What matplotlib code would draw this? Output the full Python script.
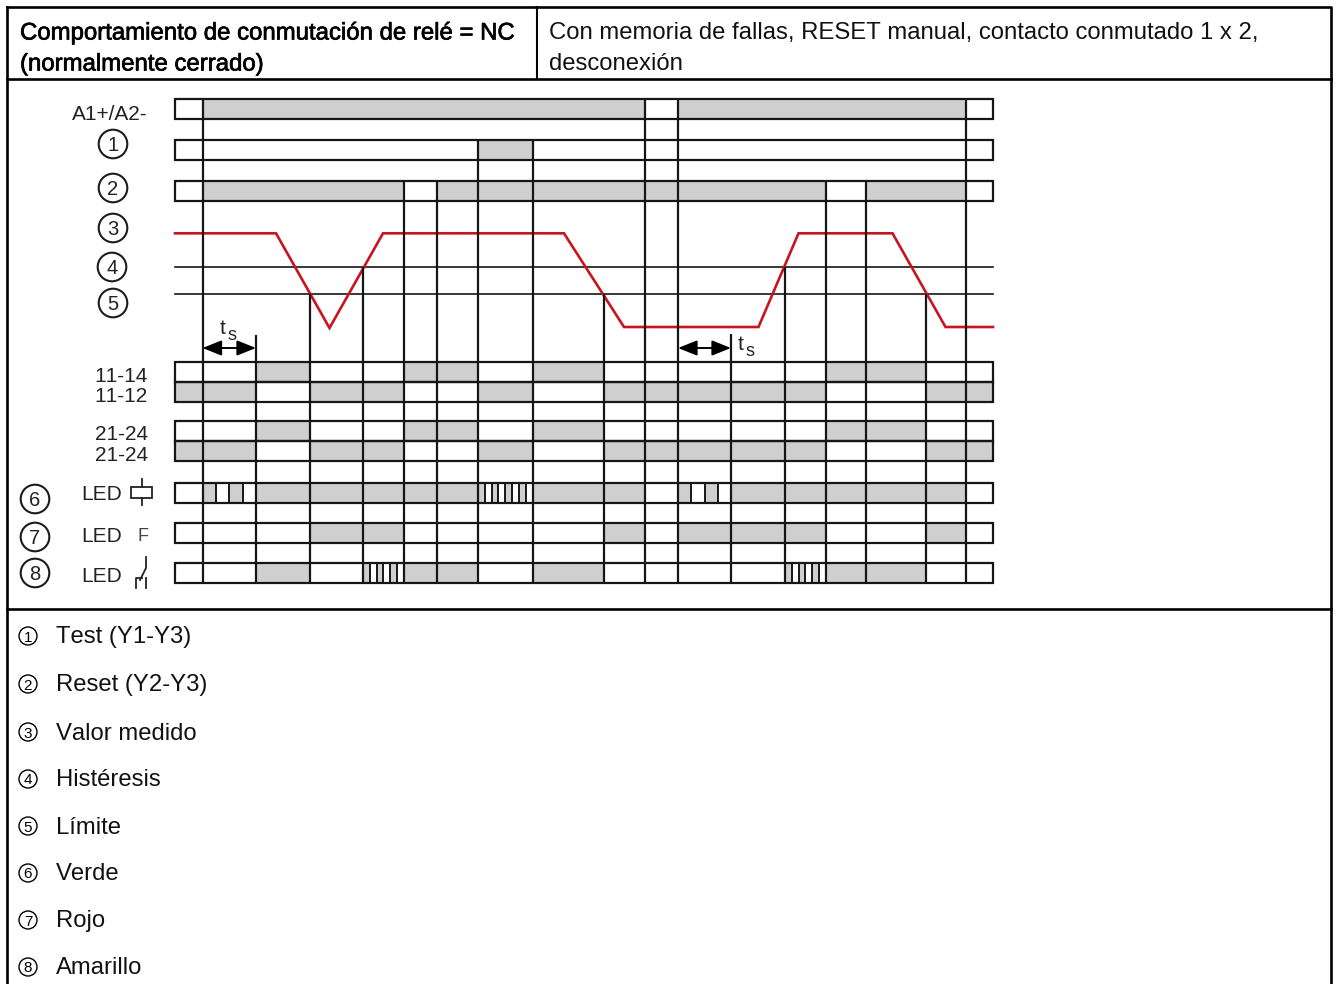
import matplotlib
matplotlib.use("Agg")
import matplotlib.pyplot as plt
import matplotlib.patheffects as pe
from matplotlib.patches import Rectangle, Circle

plt.rcParams['font.family'] = ['Liberation Sans', 'DejaVu Sans']
plt.rcParams['text.kerning_factor'] = 16

# Time edges of the timing diagram
edges = [175, 202.5, 256, 309.5, 363, 403.5, 437, 478, 532.5, 604, 644.5, 678, 731, 785, 825.5, 865.5, 926, 966, 993]
# top end of every inner vertical edge
edge_tops = [99, 335, 294, 267, 181, 181, 140, 140, 294, 99, 99, 334, 267, 181, 181, 294, 99]

# Row states per segment: 0 off, 1 on, s slow blink, f fast blink
row_a1   = "011111111101111110"
row_test = "000000010000000000"
row_rst  = "011110111111110110"
row_1114 = "001001101000001100"
row_1112 = "110110010111110011"
row_2124 = "001001101000001100"
row_2122 = "110110010111110011"
row_led6 = "0s11111f110s111110"
row_led7 = "000110000101110010"
row_led8 = "0010f11010000f1100"
rows = [row_a1, row_test, row_rst, row_1114, row_1112, row_2124, row_2122, row_led6, row_led7, row_led8]
row_tops = [99.3, 140, 180.7, 362.3, 382.3, 420.7, 440.7, 483.3, 523.3, 563.3]
row_h = 20

# Measured value (red) and thresholds
red_x = [175, 276, 329.5, 383, 564, 624, 758.5, 798.5, 892.5, 945.5, 993]
red_y = [233.3, 233.3, 328, 233.3, 233.3, 327, 327, 233.3, 233.3, 327, 327]
hyst_y = 267.3
limit_y = 293.7

side_labels = [("A1+/A2-", 113), ("11-14", 375), ("11-12", 395), ("21-24", 433), ("21-24", 454)]
big_marks = [("1", 113, 144), ("2", 113, 188), ("3", 113, 228), ("4", 112, 267), ("5", 113, 303),
             ("6", 35, 499), ("7", 35, 537), ("8", 35, 573)]
led_y = [493.5, 535, 575]
legend_items = ["Test (Y1-Y3)", "Reset (Y2-Y3)", "Valor medido", "Histéresis", "Límite", "Verde", "Rojo", "Amarillo"]
legend_y = [636, 684, 732, 779, 826, 873, 920, 967]

head_left = ["Comportamiento de conmutación de relé = NC", "(normalmente cerrado)"]
head_right = ["Con memoria de fallas, RESET manual, contacto conmutado 1 x 2,", "desconexión"]

GRAY = "#cfcfcf"
INK = "#161616"
RED = "#c8141e"
DY = 1.5

fig = plt.figure(figsize=(13.38, 9.84), dpi=100)
ax = fig.add_axes([0, 0, 1, 1])
ax.set_xlim(0, 1338)
ax.set_ylim(984, 0)
ax.axis("off")

# table frame
ax.plot([6.7, 1331, 1331], [6.5, 6.5, 984], color="black", lw=1.9, solid_capstyle="projecting", zorder=6)
ax.plot([6.7, 6.7], [6.5, 984], color="black", lw=1.9, zorder=6)
ax.plot([6.7, 1331], [79, 79], color="black", lw=1.9, zorder=6)
ax.plot([6.7, 1331], [609, 609], color="black", lw=1.9, zorder=6)
ax.plot([537, 537], [6.5, 79], color="black", lw=1.5, zorder=6)

# header
for txt, y in zip(head_left, [32, 63]):
    ax.text(20, y + DY, txt, fontsize=17.25, va="center", ha="left", color="black",
            path_effects=[pe.withStroke(linewidth=0.5, foreground="black")])
for txt, y in zip(head_right, [32, 63]):
    ax.text(549, y + DY, txt, fontsize=17.2, va="center", ha="left", color="#111111")

# bars
for top, states in zip(row_tops, rows):
    for i, st in enumerate(states):
        x0, x1 = edges[i], edges[i + 1]
        if st == "1":
            ax.add_patch(Rectangle((x0, top), x1 - x0, row_h, fc=GRAY, ec="none", zorder=1))
        elif st in "sf":
            n = 4 if st == "s" else int(round((x1 - x0) / 6.7))
            w = (x1 - x0) / n
            for k in range(n):
                if k % 2 == 0:
                    ax.add_patch(Rectangle((x0 + k * w, top), w, row_h, fc=GRAY, ec="none", zorder=1))
                if k > 0:
                    ax.plot([x0 + k * w] * 2, [top, top + row_h], color=INK, lw=1.4, zorder=2)
    ax.add_patch(Rectangle((edges[0], top), edges[-1] - edges[0], row_h, fc="none", ec=INK, lw=1.6, zorder=3))

# thresholds
ax.plot([edges[0], edges[-1]], [hyst_y] * 2, color=INK, lw=1.2, zorder=2)
ax.plot([edges[0], edges[-1]], [limit_y] * 2, color=INK, lw=1.2, zorder=2)

# measured value
ax.plot(red_x, red_y, color=RED, lw=1.9, solid_joinstyle="miter", zorder=3)

# vertical edges
ax.vlines(edges[1:-1], edge_tops, 583.3, color=INK, lw=1.6, zorder=4)

# ts arrows
for a, b in [(edges[1], edges[2]), (edges[11], edges[12])]:
    ax.annotate("", xy=(b, 348), xytext=(a, 348), zorder=5,
                arrowprops=dict(arrowstyle="<|-|>,head_length=0.55,head_width=0.22", color="black",
                                lw=1.4, shrinkA=0, shrinkB=0, mutation_scale=21))
for tx, ty, sx, sy in [(223, 328, 232, 335), (741, 344, 750, 351)]:
    ax.text(tx, ty, "t", fontsize=15, ha="center", va="center", color="#222222")
    ax.text(sx, sy, "s", fontsize=13, ha="center", va="center", color="#222222")

# side labels
for txt, y in side_labels:
    ax.text(148, y + DY, txt, fontsize=15, ha="right", va="center", color="#222222")
for mark, x, y in big_marks:
    ax.add_patch(Circle((x, y), 14.3, fc="white", ec="#1c1c1c", lw=1.5, zorder=5))
    ax.text(x, y + DY, mark, fontsize=14.5, ha="center", va="center", color="#222222", zorder=6)
for y in led_y:
    ax.text(81, y + DY, "LED", fontsize=15, ha="left", va="center", color="#222222")

# LED symbols
ax.add_patch(Rectangle((131, 487), 21, 10.5, fc="none", ec="#222222", lw=1.3))
ax.plot([141.7, 141.7], [479, 487], color="#222222", lw=1.3)
ax.plot([141.7, 141.7], [497.5, 505], color="#222222", lw=1.3)
ax.text(143, 535 + DY, "F", fontsize=13, ha="center", va="center", color="#444444")
ax.plot([146, 146, 140], [557, 568, 580], color="#222222", lw=1.3)
ax.plot([136, 136, 142], [588, 578, 578], color="#222222", lw=1.3)
ax.plot([146, 146], [578, 588], color="#222222", lw=1.3)

# legend
for mark, txt, y in zip("12345678", legend_items, legend_y):
    ax.add_patch(Circle((28, y), 9, fc="white", ec="black", lw=1.0))
    ax.text(28, y + DY, mark, fontsize=11, ha="center", va="center", color="black")
    ax.text(56, y + DY, txt, fontsize=17.2, ha="left", va="center", color="#111111")

fig.savefig("out.png", dpi=100)
